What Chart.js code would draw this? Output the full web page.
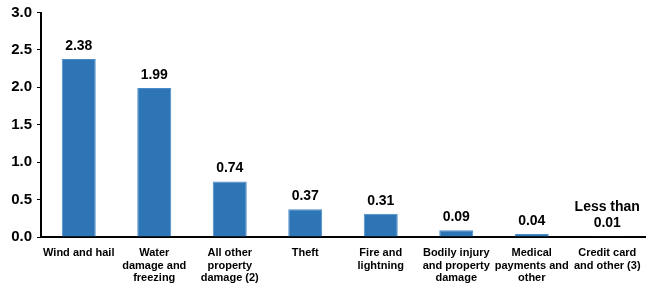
<!DOCTYPE html>
<html>
<head>
<meta charset="utf-8">
<script src="https://cdn.jsdelivr.net/npm/chart.js@4"></script>
<style>
  html, body { margin: 0; padding: 0; background: #fff; }
  #wrap { width: 650px; height: 292px; position: relative; }
</style>
</head>
<body>
<div id="wrap"><canvas id="chart"></canvas></div>
<script>
// categorias e valores
const categories = [
  ["Wind and hail"],
  ["Water", "damage and", "freezing"],
  ["All other", "property", "damage (2)"],
  ["Theft"],
  ["Fire and", "lightning"],
  ["Bodily injury", "and property", "damage"],
  ["Medical", "payments and", "other"],
  ["Credit card", "and other (3)"]
];
const values = [2.38, 1.99, 0.74, 0.37, 0.31, 0.09, 0.04, 0.01];
const valueLabels = [["2.38"], ["1.99"], ["0.74"], ["0.37"], ["0.31"], ["0.09"], ["0.04"], ["Less than", "0.01"]];
const yTicks = [0, 0.5, 1.0, 1.5, 2.0, 2.5, 3.0];

const FONT = "'Liberation Sans', Arial, sans-serif";

// rótulos de valor acima das barras
const valueLabelPlugin = {
  id: 'valueLabels',
  afterDatasetsDraw(chart) {
    const ctx = chart.ctx;
    const meta = chart.getDatasetMeta(0);
    ctx.save();
    ctx.font = "bold 14px " + FONT;
    ctx.fillStyle = '#000';
    ctx.textAlign = 'center';
    ctx.textBaseline = 'bottom';
    meta.data.forEach((bar, i) => {
      const lines = valueLabels[i];
      lines.forEach((txt, k) => {
        const y = bar.y - 6 - (lines.length - 1 - k) * 16;
        ctx.fillText(txt, bar.x, y);
      });
    });
    ctx.restore();
  }
};

const ctx = document.getElementById('chart').getContext('2d');
new Chart(ctx, {
  type: 'bar',
  data: {
    labels: categories,
    datasets: [{
      data: values,
      backgroundColor: '#2E75B6',
      borderColor: '#4A8BC8',
      borderWidth: 1,
      barPercentage: 0.9,
      categoryPercentage: 0.5
    }]
  },
  options: {
    responsive: true,
    maintainAspectRatio: false,
    animation: false,
    layout: { padding: { left: 2, right: 5, top: 0, bottom: 0 } },
    plugins: {
      legend: { display: false },
      tooltip: { enabled: false }
    },
    scales: {
      x: {
        grid: { display: false },
        border: { display: true, color: '#000', width: 2 },
        ticks: {
          color: '#000',
          font: { family: FONT, size: 11, weight: 'bold', lineHeight: 1.18 },
          maxRotation: 0,
          autoSkip: false,
          padding: 1
        },
        afterFit(scale) { scale.height = 55; }
      },
      y: {
        min: 0,
        max: 3,
        afterBuildTicks(scale) { scale.ticks = yTicks.map(v => ({ value: v })); },
        grid: { display: true, drawOnChartArea: false, drawTicks: true, tickLength: 4, color: '#000', lineWidth: 1 },
        border: { display: true, color: '#000', width: 2 },
        ticks: {
          color: '#000',
          font: { family: FONT, size: 15, weight: 'bold', lineHeight: 1.0 },
          padding: 5,
          callback: v => v.toFixed(1)
        },
        afterFit(scale) { scale.width = 39; }
      }
    }
  },
  plugins: [valueLabelPlugin]
});
</script>
</body>
</html>
